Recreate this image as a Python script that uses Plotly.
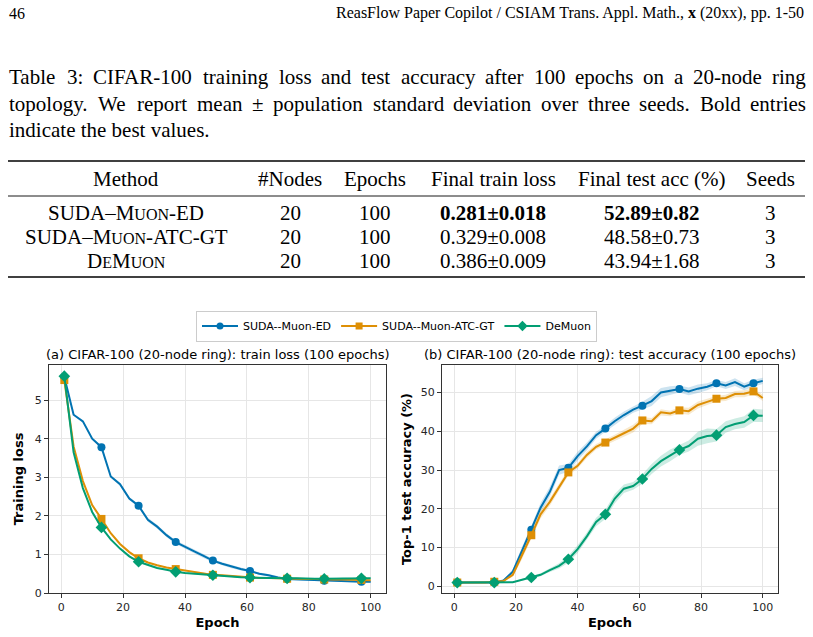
import plotly.graph_objects as go

W, H = 813, 637

# epochs sampled every 3 (markers every 12 epochs -> every 4th sample)
epochs = [1, 4, 7, 10, 13, 16, 19, 22, 25, 28, 31, 34, 37, 40, 43, 46, 49,
          52, 55, 58, 61, 64, 67, 70, 73, 76, 79, 82, 85, 88, 91, 94, 97, 100]

loss_ed = [5.60, 4.62, 4.45, 4.00, 3.78, 3.02, 2.82, 2.45, 2.26, 1.90, 1.72, 1.50,
           1.32, 1.19, 1.08, 0.96, 0.84, 0.76, 0.68, 0.62, 0.57, 0.50, 0.46, 0.40,
           0.36, 0.35, 0.34, 0.33, 0.32, 0.31, 0.31, 0.30, 0.29, 0.29]
loss_atc = [5.52, 3.80, 2.90, 2.28, 1.92, 1.55, 1.27, 1.06, 0.90, 0.79, 0.72, 0.66,
            0.62, 0.58, 0.55, 0.51, 0.47, 0.46, 0.44, 0.42, 0.40, 0.39, 0.39, 0.38,
            0.37, 0.37, 0.36, 0.36, 0.35, 0.35, 0.35, 0.34, 0.34, 0.33]
loss_de = [5.62, 3.65, 2.72, 2.10, 1.70, 1.39, 1.15, 0.95, 0.81, 0.72, 0.65, 0.60,
           0.55, 0.52, 0.50, 0.48, 0.46, 0.44, 0.42, 0.41, 0.40, 0.39, 0.39, 0.38,
           0.38, 0.38, 0.37, 0.37, 0.37, 0.37, 0.38, 0.37, 0.38, 0.38]
loss_ed_sd = [0.01, 0.02, 0.03, 0.03, 0.03, 0.03, 0.04, 0.04, 0.04, 0.05, 0.05, 0.05,
              0.05, 0.05, 0.05, 0.05, 0.04, 0.04, 0.04, 0.04, 0.03, 0.03, 0.03, 0.03,
              0.02, 0.02, 0.02, 0.02, 0.02, 0.02, 0.02, 0.02, 0.02, 0.02]
loss_atc_sd = [0.01, 0.02, 0.02, 0.02, 0.02, 0.02, 0.02, 0.02, 0.02, 0.02, 0.02, 0.02,
               0.03, 0.02, 0.02, 0.02, 0.02, 0.02, 0.02, 0.01, 0.01, 0.01, 0.01, 0.01,
               0.01, 0.01, 0.01, 0.01, 0.01, 0.01, 0.01, 0.01, 0.01, 0.01]
loss_de_sd = [0.01, 0.02, 0.02, 0.02, 0.02, 0.02, 0.02, 0.02, 0.02, 0.02, 0.02, 0.02,
              0.02, 0.02, 0.02, 0.02, 0.02, 0.02, 0.01, 0.01, 0.01, 0.01, 0.01, 0.01,
              0.01, 0.01, 0.01, 0.01, 0.01, 0.01, 0.02, 0.02, 0.02, 0.02]

acc_ed = [1.0, 1.0, 1.0, 1.0, 1.0, 1.5, 3.8, 9.2, 14.6, 20.3, 24.4, 30.0,
          30.6, 33.6, 36.1, 39.0, 40.7, 42.6, 44.2, 45.6, 46.6, 47.8, 50.0, 50.5,
          50.9, 50.3, 51.0, 51.5, 52.4, 51.8, 52.7, 51.5, 52.4, 53.0]
acc_atc = [1.0, 1.0, 1.0, 1.0, 1.2, 1.4, 3.0, 8.0, 13.2, 18.6, 21.8, 25.6,
           29.4, 31.1, 33.9, 36.0, 37.1, 38.3, 39.5, 40.7, 42.8, 42.6, 44.9, 44.6,
           45.4, 45.2, 46.8, 47.6, 48.4, 48.6, 49.6, 49.7, 50.3, 48.6]
acc_de = [1.0, 1.0, 1.0, 1.0, 1.0, 1.0, 1.1, 1.7, 2.3, 3.0, 4.2, 5.3,
          7.0, 9.6, 12.9, 16.6, 18.6, 22.6, 25.2, 25.9, 27.7, 30.3, 32.3, 33.8,
          35.2, 36.2, 38.1, 38.8, 39.0, 41.1, 41.9, 42.4, 44.1, 44.0]
acc_ed_sd = [0.0, 0.0, 0.0, 0.0, 0.0, 0.3, 0.6, 1.0, 1.0, 1.2, 1.3, 1.2,
             1.0, 1.1, 1.0, 0.9, 0.8, 0.9, 0.9, 0.8, 1.0, 1.3, 1.2, 1.1,
             0.9, 1.0, 1.1, 0.9, 0.8, 0.9, 1.0, 0.9, 0.9, 0.8]
acc_atc_sd = [0.0, 0.0, 0.0, 0.0, 0.0, 0.2, 0.5, 0.9, 1.0, 1.1, 1.0, 0.9,
              0.8, 0.7, 0.8, 0.7, 0.7, 0.8, 0.9, 1.0, 0.9, 0.8, 0.8, 0.7,
              0.8, 0.9, 0.9, 0.8, 0.7, 0.8, 0.8, 0.9, 0.8, 0.8]
acc_de_sd = [0.0, 0.0, 0.0, 0.0, 0.0, 0.0, 0.1, 0.2, 0.3, 0.4, 0.5, 0.7,
             0.9, 1.0, 1.0, 1.1, 1.2, 1.2, 1.1, 1.0, 1.2, 1.3, 1.4, 1.5,
             1.3, 1.4, 1.8, 1.9, 1.6, 1.5, 1.4, 1.5, 1.7, 1.6]

methods = ["SUDA--Muon-ED", "SUDA--Muon-ATC-GT", "DeMuon"]
colors = ["#0173b2", "#de8f05", "#029e73"]
fills = ["rgba(1,115,178,0.2)", "rgba(222,143,5,0.2)", "rgba(2,158,115,0.2)"]
symbols = ["circle", "square", "diamond"]
msizes = [8, 8, 9]

# table contents
SC = "<span style='font-size:16px'>"
tbl_header = ["Method", "#Nodes", "Epochs", "Final train loss", "Final test acc (%)", "Seeds"]
tbl_methods = ["SUDA–M" + SC + "UON</span>-ED",
               "SUDA–M" + SC + "UON</span>-ATC-GT",
               "D" + SC + "E</span>M" + SC + "UON</span>"]
tbl_nodes = ["20", "20", "20"]
tbl_epochs = ["100", "100", "100"]
tbl_loss = ["<b>0.281±0.018</b>", "0.329±0.008", "0.386±0.009"]
tbl_acc = ["<b>52.89±0.82</b>", "48.58±0.73", "43.94±1.68"]
tbl_seeds = ["3", "3", "3"]

caption = [
    "Table 3: CIFAR-100 training loss and test accuracy after 100 epochs on a 20-node ring",
    "topology. We report mean ± population standard deviation over three seeds. Bold entries",
    "indicate the best values.",
]

# rough Times widths (per 1000 em), used to justify the caption lines
CHAR_W = dict(zip("abcdefghijklmnopqrstuvwxyz",
                  [444, 500, 444, 500, 444, 333, 500, 500, 278, 278, 500, 278, 778,
                   500, 500, 500, 500, 333, 389, 278, 500, 500, 722, 500, 500, 444]))
CHAR_W.update(zip("ABCDEFGHIJKLMNOPQRSTUVWXYZ",
                  [722, 667, 667, 722, 611, 556, 722, 722, 333, 389, 722, 611, 889,
                   722, 722, 556, 722, 667, 556, 611, 722, 722, 944, 722, 722, 611]))
CHAR_W.update({"-": 333, ":": 278, ".": 250, ",": 250, "±": 564, " ": 250})


def text_w(s, size):
    return sum(CHAR_W.get(ch, 500) for ch in s) * size / 1000


def px(x):
    return x / W


def py(y):
    return 1 - y / H


fig = go.Figure()

loss_all = [(loss_ed, loss_ed_sd), (loss_atc, loss_atc_sd), (loss_de, loss_de_sd)]
acc_all = [(acc_ed, acc_ed_sd), (acc_atc, acc_atc_sd), (acc_de, acc_de_sd)]

for ax, series in [("", loss_all), ("2", acc_all)]:
    for i, (mean, sd) in enumerate(series):
        up = [m + s for m, s in zip(mean, sd)]
        lo = [m - s for m, s in zip(mean, sd)]
        fig.add_trace(go.Scatter(
            x=epochs + epochs[::-1], y=up + lo[::-1], fill="toself",
            fillcolor=fills[i], line=dict(width=0), mode="lines",
            hoverinfo="skip", showlegend=False, xaxis="x" + ax, yaxis="y" + ax))
        fig.add_trace(go.Scatter(
            x=epochs, y=mean, mode="lines", line=dict(color=colors[i], width=2),
            showlegend=False, xaxis="x" + ax, yaxis="y" + ax))
        fig.add_trace(go.Scatter(
            x=epochs[::4], y=mean[::4], mode="markers",
            marker=dict(color=colors[i], symbol=symbols[i], size=msizes[i]),
            showlegend=False, xaxis="x" + ax, yaxis="y" + ax))

# legend entries
for i, name in enumerate(methods):
    fig.add_trace(go.Scatter(
        x=[None], y=[None], mode="lines+markers", name=name,
        line=dict(color=colors[i], width=2),
        marker=dict(color=colors[i], symbol=symbols[i], size=msizes[i] - 1)))

axis_common = dict(
    showline=True, mirror=True, linecolor="#333333", linewidth=1.2,
    showgrid=True, gridcolor="#e6e6e6", gridwidth=1, zeroline=False,
    ticks="outside", ticklen=4, tickcolor="#333333", automargin=False,
    tickfont=dict(family="DejaVu Sans", size=11, color="#262626"),
)
title_font = dict(family="DejaVu Sans", size=13, color="#000000")

fig.update_layout(
    width=W, height=H, margin=dict(l=0, r=0, t=0, b=0, autoexpand=False),
    paper_bgcolor="white", plot_bgcolor="white",
    xaxis=dict(domain=[px(49), px(386)], range=[-3.95, 104.95], anchor="y",
               tickvals=[0, 20, 40, 60, 80, 100],
               title=dict(text="<b>Epoch</b>", font=title_font, standoff=4), **axis_common),
    yaxis=dict(domain=[py(593), py(365)], range=[0, 5.91], anchor="x",
               tickvals=[0, 1, 2, 3, 4, 5],
               title=dict(text="<b>Training loss</b>", font=title_font, standoff=8), **axis_common),
    xaxis2=dict(domain=[px(442), px(778)], range=[-3.95, 104.95], anchor="y2",
                tickvals=[0, 20, 40, 60, 80, 100],
                title=dict(text="<b>Epoch</b>", font=title_font, standoff=4), **axis_common),
    yaxis2=dict(domain=[py(593), py(365)], range=[-1.7, 57.1], anchor="x2",
                tickvals=[0, 10, 20, 30, 40, 50],
                title=dict(text="<b>Top-1 test accuracy (%)</b>", font=title_font, standoff=6),
                **axis_common),
    legend=dict(orientation="h", x=px(396.5), y=py(326), xanchor="center", yanchor="middle",
                bordercolor="#cccccc", borderwidth=1, bgcolor="white",
                font=dict(family="DejaVu Sans", size=11, color="#000000"),
                itemwidth=36, tracegroupgap=0),
    font=dict(family="DejaVu Sans"),
)

serif = "Liberation Serif"
cap_size = 21
tbl_size = 21
ann = []
ann.append(dict(text="46", x=px(8), y=py(13), xanchor="left", yanchor="middle",
                font=dict(family=serif, size=16)))
ann.append(dict(text="ReasFlow Paper Copilot / CSIAM Trans. Appl. Math., <b>x</b> (20xx), pp. 1-50",
                x=px(805), y=py(13), xanchor="right", yanchor="middle",
                font=dict(family=serif, size=16)))

# caption: first two lines justified word by word, last line ragged
for k, line in enumerate(caption):
    yk = py(77 + 26.5 * k)
    words = line.split(" ")
    if k < len(caption) - 1:
        widths = [text_w(wd, cap_size) for wd in words]
        gap = (797 - sum(widths)) / (len(words) - 1)
        xpos = 8
        for wd, ww in zip(words, widths):
            ann.append(dict(text=wd, x=px(xpos), y=yk, xanchor="left", yanchor="middle",
                            font=dict(family=serif, size=cap_size)))
            xpos += ww + gap
    else:
        ann.append(dict(text=line, x=px(8), y=yk, xanchor="left", yanchor="middle",
                        font=dict(family=serif, size=cap_size)))

col_x = [126, 290, 375, 493, 652, 770]
for c, h in zip(col_x, tbl_header):
    ann.append(dict(text=h, x=px(c), y=py(179), xanchor="center", yanchor="middle",
                    font=dict(family=serif, size=tbl_size)))
cols = [tbl_methods, tbl_nodes, tbl_epochs, tbl_loss, tbl_acc, tbl_seeds]
row_y = [213, 237, 261]
for c, col in zip(col_x, cols):
    for ry, val in zip(row_y, col):
        ann.append(dict(text=val, x=px(c), y=py(ry), xanchor="center", yanchor="middle",
                        font=dict(family=serif, size=tbl_size)))

ann.append(dict(text="(a) CIFAR-100 (20-node ring): train loss (100 epochs)",
                x=px(217.5), y=py(354), xanchor="center", yanchor="middle",
                font=dict(family="DejaVu Sans", size=13, color="#000000")))
ann.append(dict(text="(b) CIFAR-100 (20-node ring): test accuracy (100 epochs)",
                x=px(610), y=py(354), xanchor="center", yanchor="middle",
                font=dict(family="DejaVu Sans", size=13, color="#000000")))
for a in ann:
    a.update(xref="paper", yref="paper", showarrow=False, borderpad=0)
    a["font"].setdefault("color", "#000000")
fig.update_layout(annotations=ann)

shapes = []
for y, w in [(161, 1.6), (196, 0.9), (277, 1.6)]:
    shapes.append(dict(type="line", xref="paper", yref="paper",
                       x0=px(8), x1=px(805), y0=py(y), y1=py(y),
                       line=dict(color="black", width=w)))
fig.update_layout(shapes=shapes)

# drop the browser's default body margin so the figure fills the window exactly
fig.write_html("out.html", config={"displayModeBar": False},
               post_script="document.body.style.margin='0';")
